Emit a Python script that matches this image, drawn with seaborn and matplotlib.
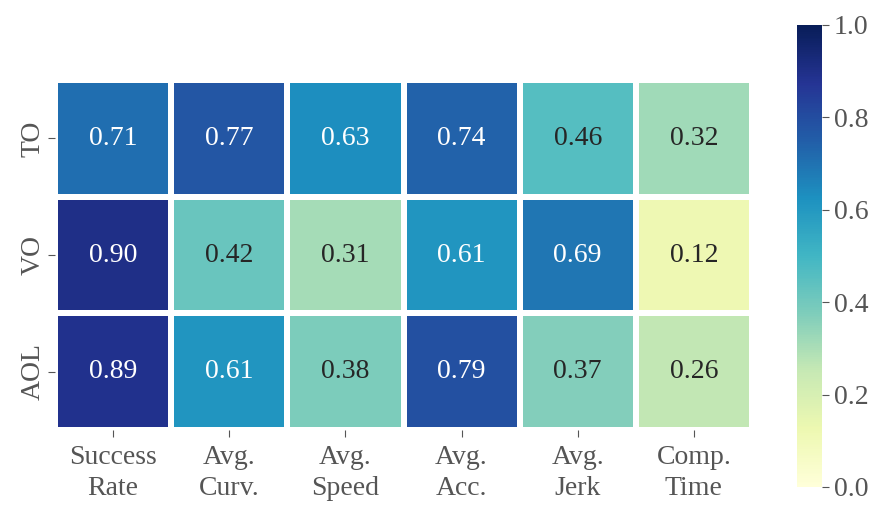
import matplotlib
matplotlib.use("Agg")
import matplotlib.pyplot as plt
import seaborn as sns
import pandas as pd
import numpy as np

methods = ["TO", "VO", "AOL"]
metrics = ["Success\nRate", "Avg.\nCurv.", "Avg.\nSpeed", "Avg.\nAcc.", "Avg.\nJerk", "Comp.\nTime"]
to_vals = [0.71, 0.77, 0.63, 0.74, 0.46, 0.32]
vo_vals = [0.90, 0.42, 0.31, 0.61, 0.69, 0.12]
aol_vals = [0.89, 0.61, 0.38, 0.79, 0.37, 0.26]

df = pd.DataFrame([to_vals, vo_vals, aol_vals], index=methods, columns=metrics)

plt.rcParams['font.family'] = ['Liberation Serif', 'DejaVu Serif']
grey = '#555555'
fig = plt.figure(figsize=(8.85, 5.18), dpi=100)
ax = fig.add_axes([55/885, 88/518, 697/885, 350/518])
cax = fig.add_axes([797/885, 31/518, 25/885, 462/518])
sns.heatmap(df, ax=ax, cbar_ax=cax, cmap="YlGnBu", vmin=0, vmax=1, annot=True, fmt=".2f",
            annot_kws={"fontsize": 20}, linewidths=3, linecolor="white")
ax.tick_params(axis='x', labelsize=20, colors=grey, labelcolor=grey, length=5, pad=6)
ax.tick_params(axis='y', labelsize=20, colors=grey, labelcolor=grey, length=5, pad=2)
ax.set_xticklabels(ax.get_xticklabels(), rotation=0, linespacing=1.3)
ax.set_yticklabels(ax.get_yticklabels(), rotation=90, va='center')
cax.tick_params(labelsize=20, colors=grey, labelcolor=grey, length=5)
for s in cax.spines.values():
    s.set_visible(False)
fig.savefig("out.png", dpi=100)
